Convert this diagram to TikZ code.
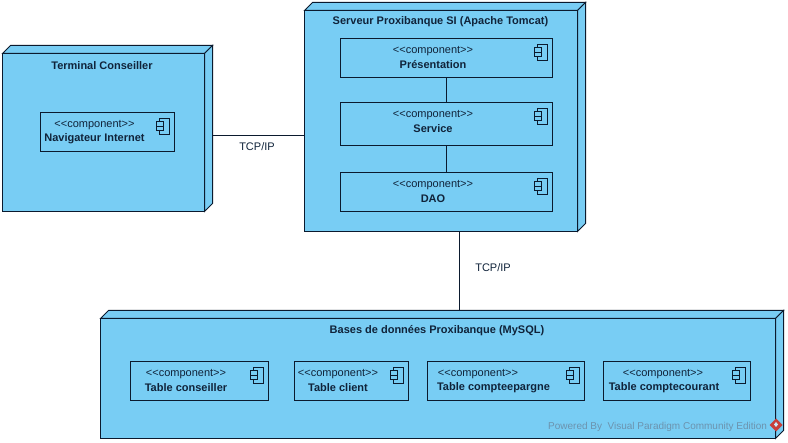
\documentclass[tikz,border=0pt]{standalone}
\usepackage{fontspec}
\setmainfont{Liberation Sans}
\definecolor{vpfill}{HTML}{78CDF4}
\definecolor{vpline}{HTML}{0B1A2E}
\definecolor{vptext}{HTML}{10233A}
\definecolor{vpmark}{HTML}{6C93AE}
\definecolor{vpred}{HTML}{C8403A}
\tikzset{
  base/.style={inner sep=0pt,outer sep=0pt},
  cubeshape/.style={draw=vpline,fill=vpfill,line width=1pt,line join=miter},
  boxnode/.style={base,rectangle},
  compbox/.style={base,rectangle,draw=vpline,line width=1pt},
  iconpart/.style={draw=vpline,fill=vpfill,line width=0.9pt},
  link/.style={draw=vpline,line width=1pt},
  title/.style={base,text=vptext,font=\fontsize{11}{12}\selectfont\bfseries},
  stereo/.style={base,text=vptext,font=\fontsize{11}{12}\selectfont},
  linklabel/.style={base,text=vptext,font=\fontsize{11}{12}\selectfont},
  watermark/.style={base,text=vpmark,font=\fontsize{10}{12}\selectfont},
}
% name, x1, y1, x2, y2
\newcommand{\mycube}[5]{%
  \node[boxnode,minimum width={(#4-#2)*1pt},minimum height={(#5-#3)*1pt}] (#1) at ({(#2+#4)/2},{(#3+#5)/2}) {};
  \path[cubeshape] (#2,#3+8) -- (#2+8,#3) -- (#4,#3) -- (#4-8,#3+8) -- cycle;
  \path[cubeshape] (#4-8,#3+8) -- (#4,#3) -- (#4,#5-8) -- (#4-8,#5) -- cycle;
  \path[cubeshape] (#2,#3+8) rectangle (#4-8,#5);
}
% name, x1, y1, x2, y2, stereotype centre, name centre, text
\newcommand{\mycomp}[8]{%
  \node[compbox,minimum width={(#4-#2)*1pt},minimum height={(#5-#3)*1pt}] (#1) at ({(#2+#4)/2},{(#3+#5)/2}) {};
  \path[iconpart] (#4-15.5,#3+5.5) rectangle (#4-5.5,#3+21.5);
  \path[iconpart] (#4-18,#3+9) rectangle (#4-11,#3+13.5);
  \path[iconpart] (#4-18,#3+13.5) rectangle (#4-11,#3+18);
  \node[stereo] (#1s) at (#6,#3+12.5) {<{}<component>{}>};
  \node[title] (#1n) at (#7,#3+26) {#8};
}
\begin{document}
\begin{tikzpicture}[x=1pt,y=-1pt]
\useasboundingbox (0,0) rectangle (788,443);
\fill[white] (0,0) rectangle (788,443);

\mycube{term}{2.5}{45.5}{212.5}{211.5}
\mycube{srv}{304.5}{2.5}{585.5}{231.5}
\mycube{db}{100.5}{310.5}{783.5}{438.5}

\node[title] (termt) at (102,65.5) {Terminal Conseiller};
\node[title] (srvt) at (440.5,22) {Serveur Proxibanque SI (Apache Tomcat)};
\node[title] (dbt) at (437,330.5) {Bases de données Proxibanque (MySQL)};

\mycomp{nav}{40.5}{112.5}{174.5}{151.5}{94.5}{94.5}{Navigateur Internet}
\mycomp{pres}{340.5}{38.5}{552.5}{77.5}{433}{433}{Présentation}
\mycomp{svc}{340.5}{102.5}{552.5}{145.5}{433}{433}{Service}
\mycomp{dao}{340.5}{172.5}{552.5}{211.5}{433}{433}{DAO}
\mycomp{tcons}{130.5}{361.5}{268.5}{400.5}{186}{186}{Table conseiller}
\mycomp{tcli}{294.5}{361.5}{408.5}{400.5}{338}{338}{Table client}
\mycomp{tepa}{427.5}{361.5}{584.5}{400.5}{478}{493.5}{Table compteepargne}
\mycomp{tcou}{603.5}{361.5}{750.5}{400.5}{663}{664}{Table comptecourant}

\draw[link] (pres) -- (svc);
\draw[link] (svc) -- (dao);
\draw[link] (term.east |- 0,135.5) -- (srv.west |- 0,135.5);
\draw[link] (srv.south -| 459.5,0) -- (db.north -| 459.5,0);

\node[linklabel] (l1) at (257,147) {TCP/IP};
\node[linklabel] (l2) at (493,268) {TCP/IP};

\node[watermark,anchor=east] (wm) at (767,426.5) {Powered By\ \ Visual Paradigm Community Edition};
\fill[vpred] (776,418.5) -- (782.5,425) -- (776,431.5) -- (769.5,425) -- cycle;
\fill[vpfill!40!white] (776,422) -- (778,424.5) -- (776,427) -- (774,424.5) -- cycle;
\end{tikzpicture}
\end{document}
